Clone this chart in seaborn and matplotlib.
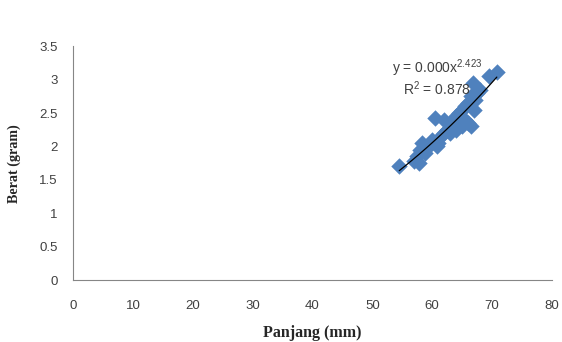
import numpy as np
import pandas as pd
import matplotlib
matplotlib.use("Agg")
import matplotlib.pyplot as plt
import seaborn as sns

panjang = [54.5, 57.0, 57.5, 57.8, 58.0, 58.3, 58.8, 59.5, 60.0, 60.5, 60.8, 61.0,
           61.5, 62.0, 62.0, 62.5, 63.0, 63.0, 63.5, 64.0, 64.0, 64.5, 64.5, 65.0,
           65.0, 65.5, 65.5, 66.0, 66.0, 66.5, 66.5, 66.8, 67.0, 67.2, 67.5, 68.0,
           69.5, 70.8]
berat = [1.70, 1.78, 1.85, 1.75, 1.95, 2.05, 1.90, 2.00, 2.10, 2.42, 2.00, 2.05,
         2.15, 2.20, 2.40, 2.25, 2.20, 2.35, 2.30, 2.25, 2.45, 2.50, 2.35, 2.55,
         2.30, 2.60, 2.40, 2.65, 2.35, 2.75, 2.30, 2.95, 2.55, 2.70, 2.80, 2.85,
         3.05, 3.12]
eq_text = "y = 0.000x$^{2.423}$"
r2_text = "R$^2$ = 0.878"
x_ticks = [0, 10, 20, 30, 40, 50, 60, 70, 80]
y_ticks = [0, 0.5, 1, 1.5, 2, 2.5, 3, 3.5]

df = pd.DataFrame({"Panjang": panjang, "Berat": berat})

sns.set_style("white")
plt.rcParams["font.family"] = ["Liberation Sans", "DejaVu Sans"]
plt.rcParams["mathtext.fontset"] = "custom"
plt.rcParams["mathtext.rm"] = "Liberation Sans"

fig = plt.figure(figsize=(5.62, 3.42), dpi=100)
ax = fig.add_axes([0.130, 0.181, 0.852, 0.684])

sns.scatterplot(data=df, x="Panjang", y="Berat", ax=ax, marker="D", s=70,
                color="#4F81BD", edgecolor="#4F81BD", linewidth=0, zorder=2)

# power trendline fitted from data
b, loga = np.polyfit(np.log(df["Panjang"]), np.log(df["Berat"]), 1)
xs = np.linspace(df["Panjang"].min(), df["Panjang"].max(), 100)
ax.plot(xs, np.exp(loga) * xs ** b, color="black", lw=0.9, zorder=3)

ax.set_xlim(0, 80)
ax.set_ylim(0, 3.5)
ax.set_xticks(x_ticks)
ax.set_yticks(y_ticks)
ax.set_xticklabels([str(t) for t in x_ticks])
ax.set_yticklabels([f"{t:g}" for t in y_ticks])
ax.tick_params(axis="both", length=0, labelsize=9.5, colors="#404040")
ax.tick_params(axis="x", pad=14)
ax.tick_params(axis="y", pad=11)
for s in ["top", "right"]:
    ax.spines[s].set_visible(False)
for s in ["left", "bottom"]:
    ax.spines[s].set_color("#868686")
    ax.spines[s].set_linewidth(0.8)

ax.set_xlabel("Panjang (mm)", family=["Liberation Serif"], fontweight="bold",
              fontsize=11.5, labelpad=10)
ax.set_ylabel("Berat (gram)", family=["Liberation Serif"], fontweight="bold",
              fontsize=10.2, labelpad=13)

ax.text(60.8, 3.17, eq_text, ha="center", va="center", fontsize=10, color="#404040")
ax.text(60.8, 2.87, r2_text, ha="center", va="center", fontsize=10, color="#404040")

fig.savefig("out.png", dpi=100)
